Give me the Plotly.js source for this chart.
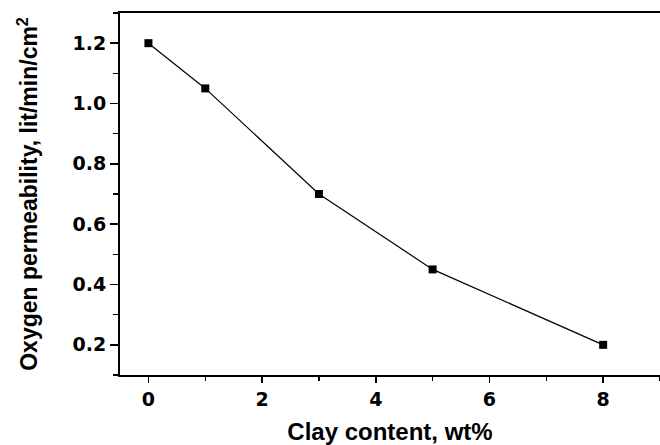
<!DOCTYPE html>
<html><head><meta charset="utf-8">
<script src="https://cdn.plot.ly/plotly-3.0.1.min.js"></script>
<style>html,body{margin:0;padding:0;background:#fff}</style>
</head><body>
<div id="chart" style="width:660px;height:445px"></div>
<script>
const clayContent = [0, 1, 3, 5, 8];
const permeability = [1.2, 1.05, 0.7, 0.45, 0.2];
const xTickVals = [0, 2, 4, 6, 8];
const yTickVals = [0.2, 0.4, 0.6, 0.8, 1.0, 1.2];
const yTickText = ['0.2', '0.4', '0.6', '0.8', '1.0', '1.2'];

const fontFam = 'Liberation Sans, Arial, sans-serif';
Plotly.newPlot('chart', [{
  x: clayContent, y: permeability, type: 'scatter', mode: 'lines+markers',
  line: {color: '#000', width: 1.2},
  marker: {symbol: 'square', size: 8, color: '#000'}
}], {
  width: 660, height: 445,
  margin: {l: 120, r: 0, t: 13, b: 70},
  paper_bgcolor: '#fff', plot_bgcolor: '#fff',
  showlegend: false,
  xaxis: {
    range: [-0.5, 9.0], tickvals: xTickVals, ticktext: xTickVals.map(v => '<b>' + v + '</b>'),
    ticks: 'outside', ticklen: 6, tickwidth: 1.5, tickcolor: '#000',
    minor: {dtick: 1, tick0: 0, ticks: 'outside', ticklen: 4, tickwidth: 1.5, tickcolor: '#000', showgrid: false},
    showline: true, linecolor: '#000', linewidth: 2, mirror: true,
    showgrid: false, zeroline: false,
    tickfont: {family: 'DejaVu Sans', size: 19, color: '#000'},
    title: {text: '<b>Clay content, wt%</b>', font: {family: fontFam, size: 24, color: '#000'}, standoff: 15}
  },
  yaxis: {
    range: [0.1, 1.3], tickvals: yTickVals, ticktext: yTickText.map(t => '<b>' + t + '</b>'),
    ticks: 'outside', ticklen: 8, tickwidth: 1.5, tickcolor: '#000',
    minor: {dtick: 0.1, tick0: 0.1, ticks: 'outside', ticklen: 5, tickwidth: 1.5, tickcolor: '#000', showgrid: false},
    showline: true, linecolor: '#000', linewidth: 2, mirror: false,
    showgrid: false, zeroline: false,
    tickfont: {family: 'DejaVu Sans', size: 19, color: '#000'},
    title: {text: '<b>Oxygen permeability, lit/min/cm<sup>2</sup></b>', font: {family: fontFam, size: 23, color: '#000'}, standoff: 28}
  }
}, {displayModeBar: false, staticPlot: true});
</script>
</body></html>
